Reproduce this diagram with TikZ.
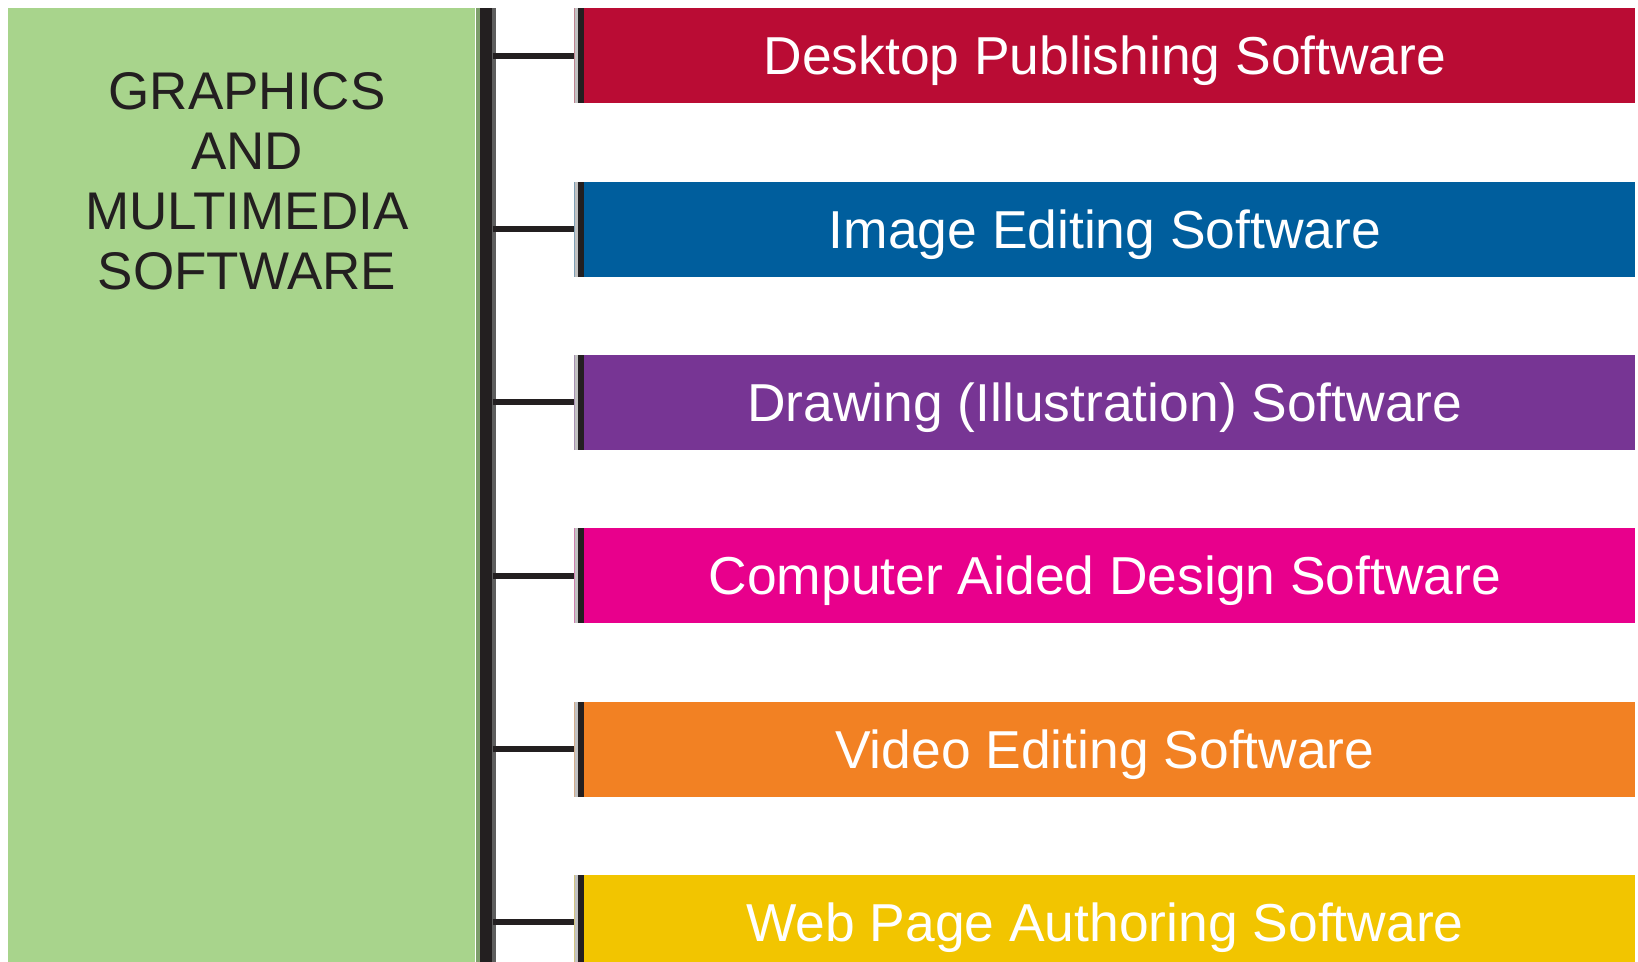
\documentclass[tikz,border=0pt]{standalone}
\usepackage{fontspec}
\setmainfont{Liberation Sans}
\usepackage{tikz}
\usetikzlibrary {positioning}
\definecolor{mmgreen}{HTML}{A8D48C}
\definecolor{dimgreen}{HTML}{7E9E6C}
\definecolor{spinedark}{HTML}{231F20}
\definecolor{spinegray}{HTML}{5E5E5E}
\definecolor{edgegray}{HTML}{C2C2C2}
\definecolor{dtpred}{HTML}{BA0C34}
\definecolor{imgblue}{HTML}{005E9D}
\definecolor{drawpurple}{HTML}{773594}
\definecolor{cadpink}{HTML}{E8008C}
\definecolor{videoorange}{HTML}{F28123}
\definecolor{webyellow}{HTML}{F2C500}
\newcommand\labelfont{\fontsize{26.5pt}{30pt}\selectfont}
\newcommand\barfont{\fontsize{26.7pt}{30pt}\selectfont}
\tikzset{
    mainbox/.style={rectangle, fill=mmgreen, inner sep=0pt,
                    minimum width=233.5pt, minimum height=480pt},
        mainlabel/.style={align=center, inner sep=0pt, text=spinedark,
                          font=\labelfont},
        spine/.style={rectangle, fill=spinegray, inner sep=0pt,
                      minimum width=10pt, minimum height=480pt,
                      path picture={\fill[dimgreen]
                        (path picture bounding box.south west) rectangle
                        ([xshift=2pt]path picture bounding box.north west);
                        \fill[spinedark]
                        ([xshift=2pt]path picture bounding box.south west) rectangle
                        ([xshift=8pt]path picture bounding box.north west);}},
        swbar/.style={rectangle, fill=#1, inner sep=0pt, text=white,
                      font=\barfont, minimum width=530.5pt,
                      minimum height=47.5pt, text height=19.1pt, text depth=0pt,
                      path picture={\fill[edgegray]
                        (path picture bounding box.south west) rectangle
                        ([xshift=2pt]path picture bounding box.north west);
                        \fill[spinedark]
                        ([xshift=2pt]path picture bounding box.south west) rectangle
                        ([xshift=5pt]path picture bounding box.north west);}},
        link/.style={draw=spinedark, line width=3pt},
 }

\begin{document}
\begin{tikzpicture}[x=0.5pt, y=-0.5pt]

    \useasboundingbox (0,0) rectangle (1638,962);

    \node[mainbox, anchor=north west] (main) at (8,8) {};
    \node[spine, right=0pt of main.north east, anchor=north west] (spine) {};
    \node[mainlabel] (title) at (247,181) {GRAPHICS\\AND\\MULTIMEDIA\\SOFTWARE};

    \node[swbar=dtpred, anchor=north west] (dtp) at (574,8) {Desktop Publishing Software};
    \node[swbar=imgblue, below=38.75pt of dtp] (img) {Image Editing Software};
    \node[swbar=drawpurple, below=38.75pt of img] (drw) {Drawing (Illustration) Software};
    \node[swbar=cadpink, below=38.75pt of drw] (cad) {Computer Aided Design Software};
    \node[swbar=videoorange, below=38.75pt of cad] (vid) {Video Editing Software};
    \node[swbar=webyellow, below=38.75pt of vid] (web) {Web Page Authoring Software};

    \draw[link] ([xshift=-2pt]spine.east |- dtp.west) -- (dtp.west);
    \draw[link] ([xshift=-2pt]spine.east |- img.west) -- (img.west);
    \draw[link] ([xshift=-2pt]spine.east |- drw.west) -- (drw.west);
    \draw[link] ([xshift=-2pt]spine.east |- cad.west) -- (cad.west);
    \draw[link] ([xshift=-2pt]spine.east |- vid.west) -- (vid.west);
    \draw[link] ([xshift=-2pt]spine.east |- web.west) -- (web.west);

\end{tikzpicture}
\end{document}
